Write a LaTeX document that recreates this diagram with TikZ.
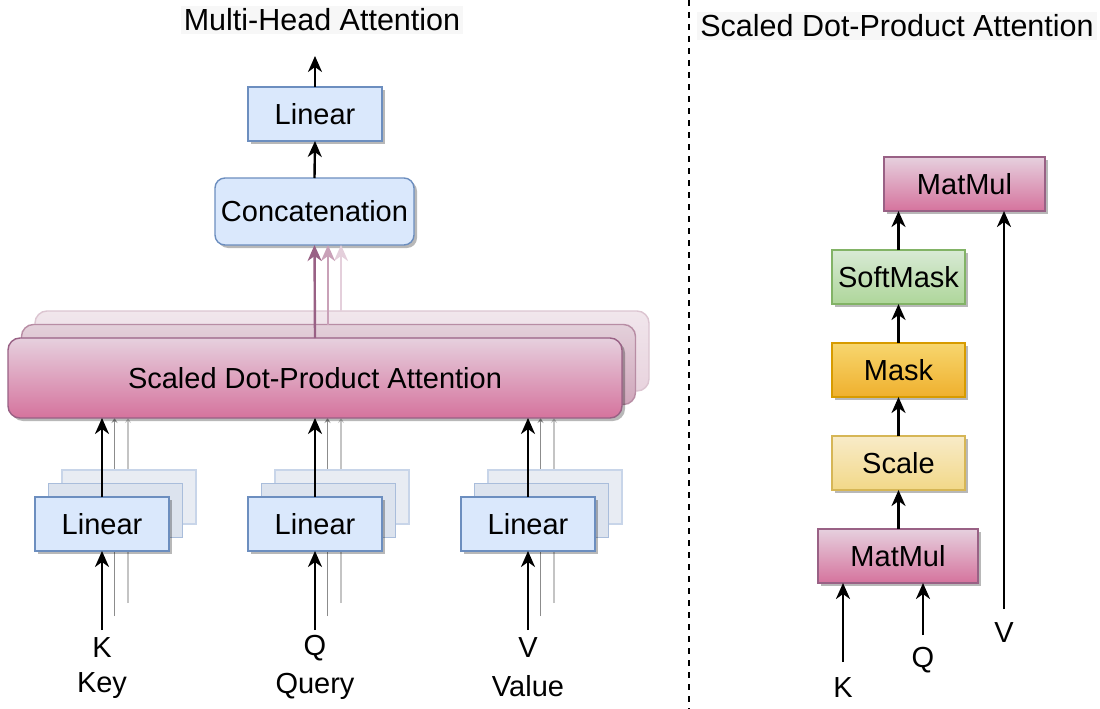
\documentclass[tikz,border=0pt]{standalone}
\usepackage{fontspec}
\setmainfont{Liberation Sans}
\usetikzlibrary{arrows.meta,shadows}
\definecolor{bfill}{HTML}{DAE8FC}
\definecolor{bstroke}{HTML}{6C8EBF}
\definecolor{bfilltwo}{HTML}{DCE3EE}
\definecolor{bstroketwo}{HTML}{A9BDDB}
\definecolor{bfillthree}{HTML}{E8ECF3}
\definecolor{bstrokethree}{HTML}{C8D5E9}
\definecolor{ptop}{HTML}{E6D0DE}
\definecolor{pbot}{HTML}{D5739D}
\definecolor{pstroke}{HTML}{996185}
\definecolor{ptoptwo}{HTML}{E3D0DA}
\definecolor{pbottwo}{HTML}{D0A6BB}
\definecolor{pstroketwo}{HTML}{B88DA4}
\definecolor{ptopthree}{HTML}{F1E6EC}
\definecolor{pbotthree}{HTML}{E8D3DE}
\definecolor{pstrokethree}{HTML}{DCC5D1}
\definecolor{gtop}{HTML}{D8EAD5}
\definecolor{gbot}{HTML}{AED69A}
\definecolor{gstroke}{HTML}{82B366}
\definecolor{otop}{HTML}{F7D66E}
\definecolor{obot}{HTML}{EFB02E}
\definecolor{ostroke}{HTML}{D79B00}
\definecolor{ytop}{HTML}{F8EBC8}
\definecolor{ybot}{HTML}{F2D888}
\definecolor{ystroke}{HTML}{D6B656}
\definecolor{graytwo}{HTML}{8C8C8C}
\definecolor{graythree}{HTML}{C4C4C4}
\definecolor{arrtwo}{HTML}{C9A1B8}
\definecolor{arrthree}{HTML}{E4CFDB}
\definecolor{ttlbg}{HTML}{F7F7F7}
\newcommand\boxfont{\fontsize{29}{34}\selectfont}
\newcommand\ttlfont{\fontsize{30.5}{36}\selectfont}
\pgfdeclarelayer{bg}
\pgfsetlayers{bg,main}
\tikzset{
  box/.style={draw, line width=1.4pt, inner sep=0pt, outer sep=0pt, font=\boxfont, text=black, minimum height=54pt},
  shad/.style={drop shadow={shadow xshift=3pt, shadow yshift=-3pt, opacity=0.28, fill=black}},
  bluebox/.style={box, fill=bfill, draw=bstroke, shad},
  bluetwo/.style={box, fill=bfilltwo, draw=bstroketwo, minimum width=134pt},
  bluethree/.style={box, fill=bfillthree, draw=bstrokethree, minimum width=134pt},
  pinkbox/.style={box, top color=ptop, bottom color=pbot, draw=pstroke, shad},
  pinktwo/.style={box, top color=ptoptwo, bottom color=pbottwo, draw=pstroketwo},
  pinkthree/.style={box, top color=ptopthree, bottom color=pbotthree, draw=pstrokethree},
  greenbox/.style={box, top color=gtop, bottom color=gbot, draw=gstroke, shad},
  orangebox/.style={box, top color=otop, bottom color=obot, draw=ostroke, shad},
  yellowbox/.style={box, top color=ytop, bottom color=ybot, draw=ystroke, shad},
  arr/.style={line width=2.4pt, -{Stealth[length=16pt,width=14pt,inset=5pt]}},
  arrtwostyle/.style={arr, draw=arrtwo, color=arrtwo},
  arrthreestyle/.style={arr, draw=arrthree, color=arrthree},
  gtwo/.style={line width=1.6pt, draw=graytwo, -{Stealth[length=5pt,width=6pt,inset=2pt]}},
  gthree/.style={line width=1.6pt, draw=graythree, -{Stealth[length=5pt,width=6pt,inset=2pt]}},
  lbl/.style={font=\boxfont, inner sep=0pt, text=black},
  ttl/.style={font=\ttlfont, fill=ttlbg, inner sep=3pt, text=black},
}
\begin{document}
\begin{tikzpicture}[x=1pt,y=-1pt]
\useasboundingbox (0,0) rectangle (1100,709);
\begin{pgfonlayer}{bg}
\fill[white] (0,0) rectangle (1100,709);
\end{pgfonlayer}

% titles and divider
\node[ttl] (ttlleft) at (322,20) {Multi-Head Attention};
\node[ttl] (ttlright) at (897,26) {Scaled Dot-Product Attention};
\coordinate (divtop) at (689,0);
\coordinate (divbot) at (689,709);
\draw[line width=2pt, dash pattern=on 6pt off 6pt] (divtop) -- (divbot);

% ---------- left: multi-head attention ----------
\node[bluebox, minimum width=134pt] (lintop) at (315,114) {Linear};
\node[bluebox, rounded corners=10pt, minimum width=199pt, minimum height=67pt] (concat) at (314.5,211.5) {Concatenation};
\node[pinkthree, rounded corners=12pt, minimum width=614pt, minimum height=80pt] (sdpathree) at (342,351) {};
\node[pinktwo, rounded corners=12pt, minimum width=614pt, minimum height=80pt] (sdpatwo) at (328.5,364.5) {};
\node[pinkbox, rounded corners=12pt, minimum width=614pt, minimum height=80pt] (sdpa) at (315,378) {Scaled Dot-Product Attention};

\foreach \n/\x/\a/\b in {k/102/K/Key, q/315/Q/Query, v/528/V/Value} {
  \node[bluethree] (\n three) at (\x+27,497) {};
  \node[bluetwo] (\n two) at (\x+13.5,510.5) {};
  \node[bluebox, minimum width=134pt] (\n one) at (\x,524) {Linear};
  \coordinate (\n in) at (\x,630);
  \coordinate (\n twoin) at (\x+12.5,616);
  \coordinate (\n threein) at (\x+26,603);
  \node[lbl] (\n sym) at (\x,648) {\a};
  \node[lbl] (\n name) at (\x,686) {\b};
}

\begin{pgfonlayer}{bg}
\foreach \n in {k,q,v} {
  \draw[gtwo] ([xshift=-1pt]\n two.north) -- ([xshift=-1pt]\n two.north |- sdpa.south);
  \draw[gthree] ([xshift=-1pt]\n three.north) -- ([xshift=-1pt]\n three.north |- sdpa.south);
  \draw[gtwo] (\n twoin) -- (\n twoin |- \n two.south);
  \draw[gthree] (\n threein) -- (\n threein |- \n three.south);
}
\end{pgfonlayer}

\foreach \n in {k,q,v} {
  \draw[arr] (\n one.north) -- (\n one.north |- sdpa.south);
  \draw[arr] (\n in) -- (\n one.south);
}

\coordinate (outtop) at (315,56);
\draw[arr] (lintop.north) -- (outtop);
\draw[arr] (concat.north) -- (lintop.south);
\draw[arrthreestyle] ([xshift=-1pt]sdpathree.north) -- ([xshift=-1pt]sdpathree.north |- concat.south);
\draw[arrtwostyle] ([xshift=-0.5pt]sdpatwo.north) -- ([xshift=-0.5pt]sdpatwo.north |- concat.south);
\draw[arr, draw=pstroke, color=pstroke] (sdpa.north) -- (concat.south);

% ---------- right: scaled dot-product attention ----------
\node[pinkbox, minimum width=161pt] (mmtop) at (964.5,184) {MatMul};
\node[greenbox, minimum width=133pt] (soft) at (898.5,277) {SoftMask};
\node[orangebox, minimum width=133pt] (mask) at (898.5,370) {Mask};
\node[yellowbox, minimum width=133pt] (scale) at (898.5,463) {Scale};
\node[pinkbox, minimum width=160pt] (mmbot) at (898,556) {MatMul};

\tikzset{rarr/.style={arr, line width=2.6pt}}
\draw[rarr] (mmbot.north -| scale.south) -- (scale.south);
\draw[rarr] (scale.north) -- (mask.south);
\draw[rarr] (mask.north) -- (soft.south);
\draw[rarr] (soft.north) -- (soft.north |- mmtop.south);

\coordinate (kr) at (843,662);
\coordinate (qr) at (923,635);
\coordinate (vr) at (1004,609);
\draw[rarr] (kr) -- (kr |- mmbot.south);
\draw[rarr] (qr) -- (qr |- mmbot.south);
\draw[rarr] (vr) -- (vr |- mmtop.south);
\node[lbl] (krl) at (843,688) {K};
\node[lbl] (qrl) at (923,660) {Q};
\node[lbl] (vrl) at (1004,633) {V};
\end{tikzpicture}
\end{document}
